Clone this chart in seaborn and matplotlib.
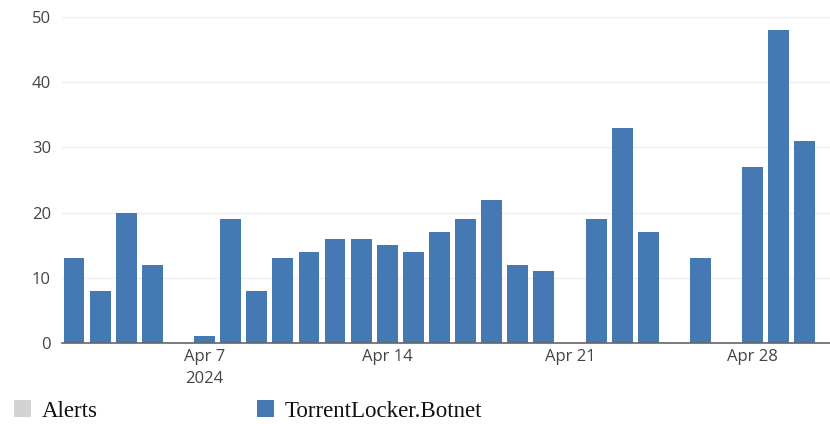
import matplotlib
matplotlib.use("Agg")
import matplotlib.pyplot as plt
from matplotlib.patches import Patch
import pandas as pd
import seaborn as sns

# daily counts, Apr 2 - Apr 30 2024
dates = pd.date_range("2024-04-02", "2024-04-30", freq="D")
botnet = [13, 8, 20, 12, 0, 1, 19, 8, 13, 14, 16, 16, 15, 14, 17, 19, 22, 12, 11,
          0, 19, 33, 17, 0, 13, 0, 27, 48, 31]
tick_days = ["2024-04-07", "2024-04-14", "2024-04-21", "2024-04-28"]
tick_labels = ["Apr 7\n2024", "Apr 14", "Apr 21", "Apr 28"]
series_names = ["Alerts", "TorrentLocker.Botnet"]
series_colors = ["#d3d3d3", "#4479b3"]

df = pd.DataFrame({"day": dates.strftime("%Y-%m-%d"), "count": botnet})

sns.set_style("white")
plt.rcParams["font.family"] = ["Open Sans", "DejaVu Sans"]

fig = plt.figure(figsize=(8.3, 4.24), dpi=100)
ax = fig.add_axes([0.0747, 0.191, 0.9253, 0.769])

sns.barplot(data=df, x="day", y="count", color=series_colors[1], width=0.8,
            saturation=1, linewidth=0, edgecolor="none", ax=ax)

ax.set_ylim(0, 50)
ax.set_xlim(-0.46, len(dates) - 1 + 0.96)
ax.set_yticks([0, 10, 20, 30, 40, 50])
ax.yaxis.grid(True, color="#efefef", linewidth=1)
ax.set_axisbelow(True)

pos = [list(df["day"]).index(d) for d in tick_days]
ax.set_xticks(pos)
ax.set_xticklabels(tick_labels, linespacing=1.5)
ax.tick_params(axis="both", length=0, labelsize=12, labelcolor="#444444")
ax.tick_params(axis="x", pad=4)
ax.tick_params(axis="y", pad=8)
ax.set_xlabel("")
ax.set_ylabel("")

for s in ["top", "right", "left"]:
    ax.spines[s].set_visible(False)
ax.spines["bottom"].set_color("#666666")
ax.spines["bottom"].set_linewidth(1.2)

handles = [Patch(facecolor=c, edgecolor="none", label=n)
           for n, c in zip(series_names, series_colors)]
fig.legend(handles=handles, loc="lower left", bbox_to_anchor=(-0.008, -0.043),
           ncol=2, frameon=False, prop={"family": "Liberation Serif", "size": 16.5},
           handlelength=0.75, handleheight=0.75, handletextpad=0.45,
           columnspacing=6.95, labelcolor="#111111")

fig.savefig("out.png", dpi=100)
